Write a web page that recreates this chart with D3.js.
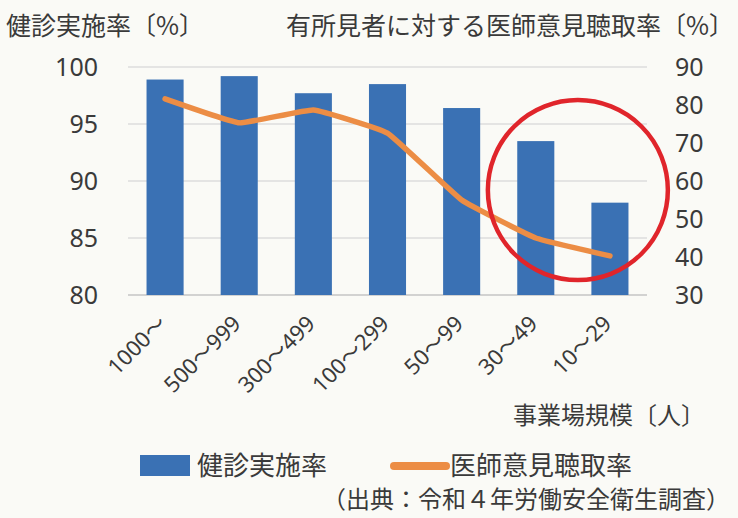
<!DOCTYPE html>
<html>
<head>
  <meta charset="utf-8">
  <title>健診実施率と医師意見聴取率</title>
  <script src="https://d3js.org/d3.v7.min.js"></script>
  <style>
    body { margin: 0; background: #fafaf6; }
    text { fill: #3a3a3a; font-family: "Noto Sans", "Noto Sans CJK JP", sans-serif; }
    .jp { font-family: "Noto Sans CJK JP", sans-serif; }
  </style>
</head>
<body>
  <svg id="grafico"></svg>

  <script>
    const kibo = ["1000～", "500～999", "300～499", "100～299", "50～99", "30～49", "10～29"];
    const kenshin = [98.9, 99.2, 97.7, 98.5, 96.4, 93.5, 88.1];
    const ishi = [81.6, 75.3, 78.7, 72.6, 55.0, 45.0, 40.3];
    const ticksIzq = [80, 85, 90, 95, 100];
    const ticksDer = [30, 40, 50, 60, 70, 80, 90];

    const ancho = 738, alto = 518;
    const svg = d3.select("#grafico")
      .attr("width", ancho)
      .attr("height", alto);

    svg.append("rect").attr("width", ancho).attr("height", alto).attr("fill", "#fafaf6");

    const x = d3.scaleBand().domain(kibo).range([128, 647])
      .paddingInner(0.5).paddingOuter(0.25);
    const yIzq = d3.scaleLinear().domain([80, 100]).range([295, 67]);
    const yDer = d3.scaleLinear().domain([30, 90]).range([295, 67]);

    // lineas de cuadricula
    svg.selectAll(".grid")
      .data(ticksIzq)
      .enter()
      .append("line")
      .attr("x1", 128).attr("x2", 647)
      .attr("y1", d => yIzq(d)).attr("y2", d => yIzq(d))
      .style("stroke", d => d === 80 ? "#c4c4c4" : "#dcdcdc")
      .style("stroke-width", 1.5);

    // ejes
    const ejeIzq = svg.append("g").attr("transform", "translate(98,0)")
      .call(d3.axisLeft(yIzq).tickValues(ticksIzq).tickSize(0).tickPadding(0));
    const ejeDer = svg.append("g").attr("transform", "translate(675,0)")
      .call(d3.axisRight(yDer).tickValues(ticksDer).tickSize(0).tickPadding(0));
    [ejeIzq, ejeDer].forEach(g => {
      g.select(".domain").remove();
      g.selectAll("text").attr("font-size", 25).attr("font-family", "Noto Sans")
        .attr("fill", "#3a3a3a");
    });

    // barras
    svg.selectAll(".barra")
      .data(kenshin)
      .enter()
      .append("rect")
      .attr("class", "barra")
      .attr("x", (d, i) => x(kibo[i]))
      .attr("width", x.bandwidth())
      .attr("y", d => yIzq(d))
      .attr("height", d => yIzq(80) - yIzq(d))
      .style("fill", "#3a71b4");

    // linea
    const linea = d3.line()
      .x((d, i) => x(kibo[i]) + x.bandwidth() / 2)
      .y(d => yDer(d))
      .curve(d3.curveCardinal.tension(0.7));

    svg.append("path")
      .datum(ishi)
      .attr("d", linea)
      .style("fill", "none")
      .style("stroke", "#ec8d45")
      .style("stroke-width", 5.5)
      .style("stroke-linecap", "round")
      .style("stroke-linejoin", "round");

    // circulo rojo
    const cx = (x(kibo[5]) + x(kibo[6])) / 2 + x.bandwidth() / 2 + 5;
    svg.append("circle")
      .attr("cx", cx)
      .attr("cy", yIzq(89.2))
      .attr("r", 90)
      .style("fill", "none")
      .style("stroke", "#e0252b")
      .style("stroke-width", 4.5);

    // etiquetas eje x
    svg.selectAll(".etq")
      .data(kibo)
      .enter()
      .append("text")
      .attr("text-anchor", "end")
      .attr("font-size", 22)
      .attr("transform", d => `translate(${x(d) + x.bandwidth() / 2 + 3},${325}) rotate(-45)`)
      .text(d => d);

    // titulos
    svg.append("text").attr("class", "jp").attr("x", 6).attr("y", 35)
      .attr("font-size", 25).text("健診実施率〔%〕");
    svg.append("text").attr("class", "jp").attr("x", 734).attr("y", 35)
      .attr("text-anchor", "end").attr("font-size", 25)
      .text("有所見者に対する医師意見聴取率〔%〕");
    svg.append("text").attr("class", "jp").attr("x", 705).attr("y", 424)
      .attr("text-anchor", "end").attr("font-size", 24).text("事業場規模〔人〕");

    // leyenda
    svg.append("rect").attr("x", 140).attr("y", 455).attr("width", 50).attr("height", 21)
      .style("fill", "#3a71b4");
    svg.append("text").attr("class", "jp").attr("x", 197).attr("y", 475)
      .attr("font-size", 26).text("健診実施率");
    svg.append("line").attr("x1", 394).attr("x2", 446).attr("y1", 466).attr("y2", 466)
      .style("stroke", "#ec8d45").style("stroke-width", 8).style("stroke-linecap", "round");
    svg.append("text").attr("class", "jp").attr("x", 450).attr("y", 475)
      .attr("font-size", 26).text("医師意見聴取率");
    svg.append("text").attr("class", "jp").attr("x", 730).attr("y", 508)
      .attr("text-anchor", "end").attr("font-size", 24).text("（出典：令和４年労働安全衛生調査）");
  </script>
</body>
</html>
